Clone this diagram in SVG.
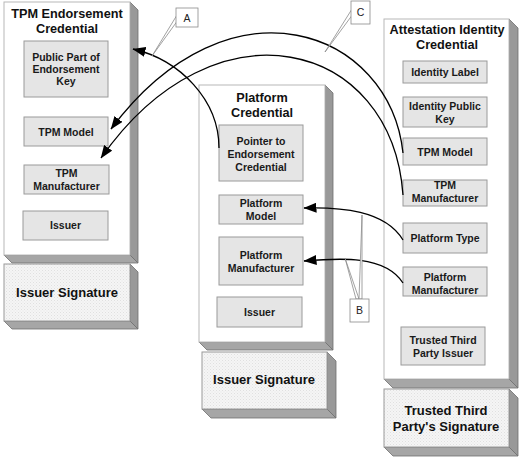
<svg xmlns="http://www.w3.org/2000/svg" width="523" height="458" viewBox="0 0 523 458">
<defs>
  <pattern id="stipple" width="3" height="3" patternUnits="userSpaceOnUse">
    <rect width="3" height="3" fill="#f5f5f5"/>
    <rect x="0" y="0" width="1" height="1" fill="#e0e0e0"/>
    <rect x="1.5" y="1.5" width="1" height="1" fill="#e6e6e6"/>
  </pattern>
  <marker id="arrow" markerUnits="userSpaceOnUse" markerWidth="13" markerHeight="10" viewBox="0 0 13 10" refX="12.5" refY="5" orient="auto">
    <path d="M0,0 L13,5 L0,10 z" fill="#000"/>
  </marker>
  <style>
    .front{fill:#ffffff;stroke:#b8b8b8;stroke-width:1}
    .side{fill:#999999;stroke:#6e6e6e;stroke-width:0.8}
    .bottom{fill:#a6a6a6;stroke:#6e6e6e;stroke-width:0.8}
    .sig{fill:url(#stipple);stroke:#9a9a9a;stroke-width:1}
    .field{fill:#e5e5e5;stroke:#9a9a9a;stroke-width:1}
    .title{font-family:"Liberation Sans",Arial,sans-serif;font-weight:bold;font-size:12.7px;fill:#111;text-anchor:middle}
    .sigt{font-family:"Liberation Sans",Arial,sans-serif;font-weight:bold;font-size:13px;fill:#111;text-anchor:middle}
    .ft{font-family:"Liberation Sans",Arial,sans-serif;font-weight:bold;font-size:10.5px;fill:#1a1a1a;text-anchor:middle}
    .call{fill:#ffffff;stroke:#8a8a8a;stroke-width:0.8}
    .callt{font-family:"Liberation Sans",Arial,sans-serif;font-size:10.5px;fill:#222;text-anchor:middle}
    .conn{fill:none;stroke:#000;stroke-width:1.3}
  </style>
</defs>
<rect width="523" height="458" fill="#ffffff"/>

<!-- TPM Endorsement Credential -->
<g id="tpm-endorsement-credential">
  <polygon class="side" points="130,2 138,10 138,263 130,255"/>
  <polygon class="bottom" points="4,255 130,255 138,263 12,263"/>
  <rect class="front" x="4" y="2" width="126" height="253"/>
  <text class="title" x="67" y="18">TPM Endorsement</text>
  <text class="title" x="67" y="33">Credential</text>
</g>
<g id="ec-public-key">
  <rect class="field" x="24" y="41" width="84" height="56"/>
  <text class="ft" x="66" y="61">Public Part of</text>
  <text class="ft" x="66" y="73">Endorsement</text>
  <text class="ft" x="66" y="85">Key</text>
</g>
<g id="ec-tpm-model">
  <rect class="field" x="24" y="117" width="84" height="29"/>
  <text class="ft" x="66" y="135.5">TPM Model</text>
</g>
<g id="ec-tpm-manufacturer">
  <rect class="field" x="24" y="165" width="85" height="29"/>
  <text class="ft" x="66.5" y="177">TPM</text>
  <text class="ft" x="66.5" y="190">Manufacturer</text>
</g>
<g id="ec-issuer">
  <rect class="field" x="23" y="211" width="85" height="29"/>
  <text class="ft" x="65.5" y="229">Issuer</text>
</g>
<g id="ec-issuer-signature">
  <polygon class="side" points="130,264 138,272 138,329 130,321"/>
  <polygon class="bottom" points="4,321 130,321 138,329 12,329"/>
  <rect class="sig" x="4" y="264" width="126" height="57"/>
  <text class="sigt" x="67" y="297">Issuer Signature</text>
</g>

<!-- Platform Credential -->
<g id="platform-credential">
  <polygon class="side" points="325,85 333,93 333,350 325,342"/>
  <polygon class="bottom" points="199,342 325,342 333,350 207,350"/>
  <rect class="front" x="199" y="85" width="126" height="257"/>
  <text class="title" x="262" y="102">Platform</text>
  <text class="title" x="262" y="117">Credential</text>
</g>
<g id="pc-pointer">
  <rect class="field" x="219" y="125" width="84" height="56"/>
  <text class="ft" x="261" y="145">Pointer to</text>
  <text class="ft" x="261" y="158">Endorsement</text>
  <text class="ft" x="261" y="171">Credential</text>
</g>
<g id="pc-platform-model">
  <rect class="field" x="219" y="195" width="84" height="29"/>
  <text class="ft" x="261" y="207">Platform</text>
  <text class="ft" x="261" y="220">Model</text>
</g>
<g id="pc-platform-manufacturer">
  <rect class="field" x="219" y="237" width="84" height="48"/>
  <text class="ft" x="261" y="259">Platform</text>
  <text class="ft" x="261" y="272">Manufacturer</text>
</g>
<g id="pc-issuer">
  <rect class="field" x="217" y="297" width="85" height="30"/>
  <text class="ft" x="259.5" y="316">Issuer</text>
</g>
<g id="pc-issuer-signature">
  <polygon class="side" points="327,352 336,361 336,418 327,409"/>
  <polygon class="bottom" points="202,409 327,409 336,418 211,418"/>
  <rect class="sig" x="202" y="352" width="125" height="57"/>
  <text class="sigt" x="264" y="384">Issuer Signature</text>
</g>

<!-- Attestation Identity Credential -->
<g id="attestation-identity-credential">
  <polygon class="side" points="509,19 518,28 518,388 509,379"/>
  <polygon class="bottom" points="384,379 509,379 518,388 393,388"/>
  <rect class="front" x="384" y="19" width="125" height="360"/>
  <text class="title" x="447" y="34">Attestation Identity</text>
  <text class="title" x="447" y="49">Credential</text>
</g>
<g id="aic-identity-label">
  <rect class="field" x="403" y="61" width="84" height="22"/>
  <text class="ft" x="445" y="76">Identity Label</text>
</g>
<g id="aic-identity-public-key">
  <rect class="field" x="403" y="97" width="84" height="30"/>
  <text class="ft" x="445" y="110">Identity Public</text>
  <text class="ft" x="445" y="123">Key</text>
</g>
<g id="aic-tpm-model">
  <rect class="field" x="403" y="138" width="84" height="27"/>
  <text class="ft" x="445" y="156">TPM Model</text>
</g>
<g id="aic-tpm-manufacturer">
  <rect class="field" x="403" y="180" width="84" height="26"/>
  <text class="ft" x="445" y="189">TPM</text>
  <text class="ft" x="445" y="202">Manufacturer</text>
</g>
<g id="aic-platform-type">
  <rect class="field" x="403" y="223" width="84" height="30"/>
  <text class="ft" x="445" y="242">Platform Type</text>
</g>
<g id="aic-platform-manufacturer">
  <rect class="field" x="403" y="267" width="84" height="29"/>
  <text class="ft" x="445" y="281">Platform</text>
  <text class="ft" x="445" y="294">Manufacturer</text>
</g>
<g id="aic-ttp-issuer">
  <rect class="field" x="401" y="327" width="84" height="38"/>
  <text class="ft" x="443" y="344">Trusted Third</text>
  <text class="ft" x="443" y="357">Party Issuer</text>
</g>
<g id="aic-ttp-signature">
  <polygon class="side" points="509,389 518,398 518,456 509,447"/>
  <polygon class="bottom" points="384,447 509,447 518,456 393,456"/>
  <rect class="sig" x="384" y="389" width="125" height="58"/>
  <text class="sigt" x="446" y="415">Trusted Third</text>
  <text class="sigt" x="446" y="431">Party's Signature</text>
</g>

<!-- Connectors -->
<g id="connectors">
  <path class="conn" d="M219,148 C219,100 180,60 133,49" marker-end="url(#arrow)"/>
  <path class="conn" d="M403,153 C390,30 230,-30 111,129" marker-end="url(#arrow)"/>
  <path class="conn" d="M403,195 C392,40 215,-5 101,158" marker-end="url(#arrow)"/>
  <path class="conn" d="M403,240 C385,210 340,207 304,208" marker-end="url(#arrow)"/>
  <path class="conn" d="M403,283 C385,255 340,258 304,261" marker-end="url(#arrow)"/>
</g>

<!-- Callouts -->
<g id="callout-a">
  <polygon class="call" points="177,15 178,20 152,56"/>
  <rect class="call" x="176" y="8" width="22" height="19"/>
  <text class="callt" x="187" y="22">A</text>
</g>
<g id="callout-c">
  <polygon class="call" points="352,9 353,14 325,52"/>
  <rect class="call" x="351" y="1" width="19" height="23"/>
  <text class="callt" x="360.5" y="16">C</text>
</g>
<g id="callout-b">
  <polygon class="call" points="356,299 359,299 345,258"/>
  <polygon class="call" points="359,299 362,299 362,215"/>
  <rect class="call" x="350" y="299" width="19" height="23"/>
  <text class="callt" x="359.5" y="314">B</text>
</g>
</svg>
